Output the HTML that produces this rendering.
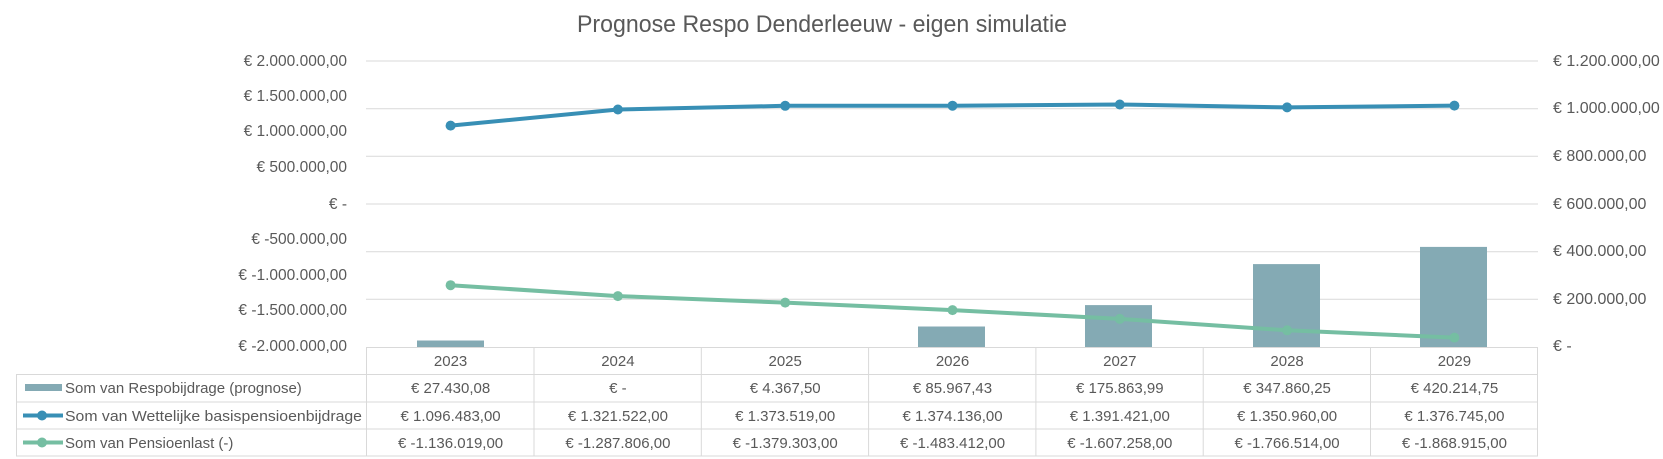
<!DOCTYPE html>
<html><head><meta charset="utf-8"><style>
html,body{margin:0;padding:0;background:#fff;}
svg{display:block;font-family:"Liberation Sans",sans-serif;}
</style></head><body>
<svg width="1663" height="459" viewBox="0 0 1663 459" xmlns="http://www.w3.org/2000/svg">
<text x="822" y="32" text-anchor="middle" font-size="24" fill="#595959" textLength="490" lengthAdjust="spacingAndGlyphs">Prognose Respo Denderleeuw - eigen simulatie</text>
<g stroke="#d9d9d9" stroke-width="1">
<line x1="366" y1="61" x2="1538" y2="61"/>
<line x1="366" y1="108.7" x2="1538" y2="108.7"/>
<line x1="366" y1="156.3" x2="1538" y2="156.3"/>
<line x1="366" y1="204" x2="1538" y2="204"/>
<line x1="366" y1="251.7" x2="1538" y2="251.7"/>
<line x1="366" y1="299.3" x2="1538" y2="299.3"/>
</g>
<g font-size="15.5" fill="#595959" text-anchor="end">
<text x="347" y="66">€ 2.000.000,00</text>
<text x="347" y="101">€ 1.500.000,00</text>
<text x="347" y="136">€ 1.000.000,00</text>
<text x="347" y="172">€ 500.000,00</text>
<text x="347" y="209">€ -</text>
<text x="347" y="244">€ -500.000,00</text>
<text x="347" y="280">€ -1.000.000,00</text>
<text x="347" y="315">€ -1.500.000,00</text>
<text x="347" y="351">€ -2.000.000,00</text>
</g>
<g font-size="16" fill="#595959">
<text x="1553" y="66">€ 1.200.000,00</text>
<text x="1553" y="113">€ 1.000.000,00</text>
<text x="1553" y="161">€ 800.000,00</text>
<text x="1553" y="209">€ 600.000,00</text>
<text x="1553" y="256">€ 400.000,00</text>
<text x="1553" y="304">€ 200.000,00</text>
<text x="1553" y="351">€ -</text>
</g>
<g fill="#84aab4">
<rect x="417" y="340.5" width="67" height="6.5"/>
<rect x="918" y="326.5" width="67" height="20.5"/>
<rect x="1085" y="305.1" width="67" height="41.9"/>
<rect x="1253" y="264.1" width="67" height="82.9"/>
<rect x="1420" y="246.9" width="67" height="100.1"/>
</g>
<polyline fill="none" stroke="#388fb5" stroke-width="4" stroke-linejoin="round" points="450.6,125.6 617.9,109.5 785.2,105.8 952.5,105.7 1119.8,104.5 1287.1,107.4 1454.4,105.6"/>
<g fill="#388fb5">
<circle cx="450.6" cy="125.6" r="5"/><circle cx="617.9" cy="109.5" r="5"/><circle cx="785.2" cy="105.8" r="5"/><circle cx="952.5" cy="105.7" r="5"/><circle cx="1119.8" cy="104.5" r="5"/><circle cx="1287.1" cy="107.4" r="5"/><circle cx="1454.4" cy="105.6" r="5"/>
</g>
<polyline fill="none" stroke="#75bea2" stroke-width="4" stroke-linejoin="round" points="450.6,285.2 617.9,296.1 785.2,302.6 952.5,310.1 1119.8,318.9 1287.1,330.3 1454.4,337.6"/>
<g fill="#75bea2">
<circle cx="450.6" cy="285.2" r="5"/><circle cx="617.9" cy="296.1" r="5"/><circle cx="785.2" cy="302.6" r="5"/><circle cx="952.5" cy="310.1" r="5"/><circle cx="1119.8" cy="318.9" r="5"/><circle cx="1287.1" cy="330.3" r="5"/><circle cx="1454.4" cy="337.6" r="5"/>
</g>
<g stroke="#d9d9d9" stroke-width="1" fill="none">
<line x1="366" y1="347.5" x2="1538" y2="347.5"/>
<line x1="16" y1="374.5" x2="1538" y2="374.5"/>
<line x1="16" y1="402" x2="1538" y2="402"/>
<line x1="16" y1="429" x2="1538" y2="429"/>
<line x1="16" y1="456" x2="1538" y2="456"/>
<line x1="16.5" y1="374.5" x2="16.5" y2="456"/>
<line x1="366.5" y1="347.5" x2="366.5" y2="456"/>
<line x1="534" y1="347.5" x2="534" y2="456"/>
<line x1="701.3" y1="347.5" x2="701.3" y2="456"/>
<line x1="868.6" y1="347.5" x2="868.6" y2="456"/>
<line x1="1035.9" y1="347.5" x2="1035.9" y2="456"/>
<line x1="1203.2" y1="347.5" x2="1203.2" y2="456"/>
<line x1="1370.5" y1="347.5" x2="1370.5" y2="456"/>
<line x1="1537.5" y1="347.5" x2="1537.5" y2="456"/>
</g>
<rect x="25" y="384" width="37" height="7" fill="#84aab4"/>
<line x1="23" y1="415.5" x2="63" y2="415.5" stroke="#388fb5" stroke-width="4"/>
<circle cx="42" cy="415.5" r="5" fill="#388fb5"/>
<line x1="23" y1="442.5" x2="63" y2="442.5" stroke="#75bea2" stroke-width="4"/>
<circle cx="42" cy="442.5" r="5" fill="#75bea2"/>
<g font-size="15" fill="#595959">
<text x="65" y="393">Som van Respobijdrage (prognose)</text>
<text x="65" y="421" textLength="297" lengthAdjust="spacingAndGlyphs">Som van Wettelijke basispensioenbijdrage</text>
<text x="65" y="448">Som van Pensioenlast (-)</text>
</g>
<g font-size="15" fill="#595959" text-anchor="middle">
<text x="450.6" y="366">2023</text><text x="617.9" y="366">2024</text><text x="785.2" y="366">2025</text><text x="952.5" y="366">2026</text><text x="1119.8" y="366">2027</text><text x="1287.1" y="366">2028</text><text x="1454.4" y="366">2029</text>
<text x="450.6" y="393">€ 27.430,08</text><text x="617.9" y="393">€ -</text><text x="785.2" y="393">€ 4.367,50</text><text x="952.5" y="393">€ 85.967,43</text><text x="1119.8" y="393">€ 175.863,99</text><text x="1287.1" y="393">€ 347.860,25</text><text x="1454.4" y="393">€ 420.214,75</text>
<text x="450.6" y="421">€ 1.096.483,00</text><text x="617.9" y="421">€ 1.321.522,00</text><text x="785.2" y="421">€ 1.373.519,00</text><text x="952.5" y="421">€ 1.374.136,00</text><text x="1119.8" y="421">€ 1.391.421,00</text><text x="1287.1" y="421">€ 1.350.960,00</text><text x="1454.4" y="421">€ 1.376.745,00</text>
<text x="450.6" y="448">€ -1.136.019,00</text><text x="617.9" y="448">€ -1.287.806,00</text><text x="785.2" y="448">€ -1.379.303,00</text><text x="952.5" y="448">€ -1.483.412,00</text><text x="1119.8" y="448">€ -1.607.258,00</text><text x="1287.1" y="448">€ -1.766.514,00</text><text x="1454.4" y="448">€ -1.868.915,00</text>
</g>
</svg>
</body></html>
